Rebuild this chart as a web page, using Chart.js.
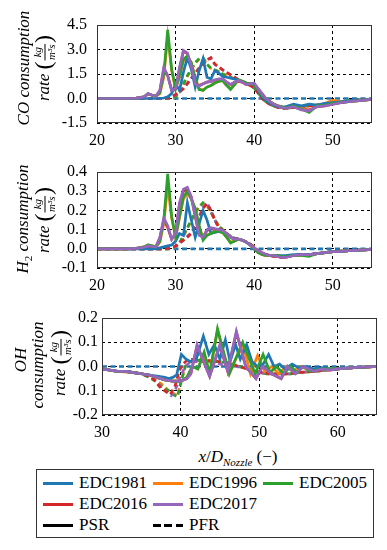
<!DOCTYPE html>
<html>
<head>
<meta charset="utf-8">
<script src="https://cdn.jsdelivr.net/npm/chart.js@4.4.1/dist/chart.umd.min.js"></script>
<style>
  body { margin: 0; background: #fff; width: 387px; height: 550px; position: relative; overflow: hidden;
         font-family: 'Liberation Serif', 'DejaVu Serif', serif; }
  canvas { position: absolute; left: 0; }
  #xtitle { position: absolute; left: 0; width: 476px; top: 447px; text-align: center; font-size: 17px; color: #000; }
  #legend { position: absolute; left: 36px; top: 469px; width: 336px; height: 67px; border: 1px solid #333; }
  .sw { position: absolute; width: 30px; height: 3px; }
  .lt { position: absolute; font-size: 17px; line-height: 20px; color: #000; }
</style>
</head>
<body>
<canvas id="c1" width="387" height="148" style="top:0px"></canvas>
<canvas id="c2" width="387" height="145" style="top:148px"></canvas>
<canvas id="c3" width="387" height="147" style="top:293px"></canvas>
<div id="xtitle"><i>x</i>/<i>D<sub style="font-size:11px">Nozzle</sub></i> (−)</div>
<div id="legend"></div>
<script>
// x positions (x/D_Nozzle) for the CO and H2 panels
const xA = [20,22,24,25,26,26.5,27,27.5,28,28.5,29,29.5,30,30.5,31,31.5,32,32.5,33,33.5,34,34.5,35,35.5,36,36.5,37,37.5,38,38.5,39,39.5,40,40.5,41,41.5,42,42.5,43,43.5,44,45,46,47,48,49,50,51,52,53,55];

// CO consumption rate
const coBluePSR   = [0,0,0,0,0,0,0,0,0.01,0.03,0.1,0.3,0.9,0.5,1.6,2.5,1.8,0.7,1.7,2.45,1.3,1.2,1.7,1.55,1.35,1.3,1.25,1.2,1.1,1.05,0.95,0.9,0.85,0.5,0.1,-0.1,-0.3,-0.4,-0.5,-0.55,-0.5,-0.35,-0.45,-0.35,-0.4,-0.3,-0.25,-0.2,-0.15,-0.1,-0.05];
const coOrangePSR = [0,0,0,0.02,0.1,0.28,0.2,0.15,0.3,1.3,3.8,1.7,0.6,1.3,2.3,2.55,2.2,1.25,0.6,0.5,0.7,0.8,0.95,1.05,1.1,0.8,0.6,0.85,1.1,1.05,0.95,0.9,0.85,0.55,0.2,0,-0.2,-0.35,-0.45,-0.5,-0.6,-0.45,-0.6,-0.8,-0.45,-0.3,-0.1,-0.2,-0.2,-0.15,-0.05];
const coGreenPSR  = [0,0,0,0.02,0.1,0.3,0.2,0.15,0.35,1.5,4.2,1.8,0.6,1.4,2.4,2.6,2.2,1.2,0.55,0.5,0.7,0.8,0.95,1.05,1.1,0.8,0.55,0.85,1.15,1.05,0.95,0.9,0.85,0.55,0.2,0,-0.2,-0.35,-0.45,-0.5,-0.6,-0.45,-0.65,-0.85,-0.45,-0.4,-0.3,-0.25,-0.2,-0.15,-0.05];
const coRedPSR    = [0,0,0,0.02,0.1,0.28,0.2,0.15,0.45,1.8,1.4,0.5,0.6,1.8,2.9,2.75,2.0,0.95,0.8,0.9,1.0,1.05,1.1,1.15,1.2,1.0,0.85,1.0,1.05,1.0,0.85,0.9,0.9,0.6,0.3,0.0,-0.2,-0.35,-0.45,-0.55,-0.6,-0.5,-0.65,-0.7,-0.5,-0.45,-0.35,-0.25,-0.2,-0.15,-0.05];
const coPurplePSR = [0,0,0,0.02,0.1,0.3,0.2,0.15,0.5,1.9,1.4,0.5,0.6,1.9,2.95,2.8,2.0,0.9,0.75,0.9,1.0,1.05,1.15,1.2,1.2,1.0,0.85,1.0,1.1,1.0,0.85,0.9,0.95,0.6,0.3,0.0,-0.2,-0.35,-0.45,-0.55,-0.6,-0.5,-0.7,-0.75,-0.5,-0.45,-0.35,-0.25,-0.2,-0.15,-0.05];
const coOrangePFR = [0,0,0,0,0,0,0,0,0,0,0,0.02,0.1,0.35,0.85,1.35,1.75,2.15,2.4,2.45,2.1,1.85,1.75,1.65,1.5,1.4,1.3,1.2,1.1,1.0,0.9,0.8,0.65,0.35,0.05,-0.2,-0.35,-0.45,-0.5,-0.55,-0.6,-0.55,-0.5,-0.45,-0.4,-0.35,-0.3,-0.2,-0.15,-0.1,-0.05];
const coGreenPFR  = [0,0,0,0,0,0,0,0,0,0,0,0.02,0.1,0.4,0.9,1.4,1.8,2.2,2.45,2.5,2.1,1.85,1.75,1.65,1.5,1.4,1.3,1.2,1.1,1.0,0.9,0.8,0.65,0.35,0.05,-0.2,-0.35,-0.45,-0.5,-0.55,-0.6,-0.55,-0.5,-0.45,-0.4,-0.35,-0.3,-0.2,-0.15,-0.1,-0.05];
const coRedPFR    = [0,0,0,0,0,0,0,0,0,0,0.02,0.1,0.25,0.4,0.6,0.9,1.2,1.5,1.85,2.1,2.35,2.5,2.1,1.95,1.75,1.6,1.45,1.3,1.15,1.05,0.9,0.8,0.65,0.35,0.0,-0.2,-0.35,-0.45,-0.55,-0.6,-0.6,-0.55,-0.5,-0.45,-0.4,-0.35,-0.3,-0.25,-0.15,-0.1,-0.05];
const coPurplePFR = [0,0,0,0,0,0,0,0,0,0,0.02,0.08,0.2,0.4,0.65,0.95,1.25,1.55,1.9,2.15,2.4,2.45,2.1,1.9,1.75,1.6,1.45,1.3,1.15,1.05,0.9,0.8,0.65,0.35,0.0,-0.2,-0.35,-0.45,-0.55,-0.6,-0.6,-0.55,-0.5,-0.45,-0.4,-0.35,-0.3,-0.25,-0.15,-0.1,-0.05];

// H2 consumption rate
const h2BluePSR   = [0,0,0,0,0,0,0,0,0.005,0.01,0.015,0.02,0.04,0.08,0.07,0.24,0.15,0.06,0.13,0.2,0.15,0.08,0.085,0.09,0.085,0.08,0.06,0.05,0.05,0.045,0.035,0.02,0.0,-0.015,-0.025,-0.03,-0.035,-0.035,-0.035,-0.035,-0.035,-0.03,-0.03,-0.03,-0.025,-0.02,-0.015,-0.015,-0.01,-0.008,-0.003];
const h2OrangePSR = [0,0,0,0.002,0.01,0.02,0.015,0.01,0.035,0.13,0.33,0.16,0.06,0.16,0.26,0.29,0.26,0.21,0.12,0.05,0.07,0.08,0.09,0.09,0.085,0.06,0.035,0.04,0.05,0.045,0.035,0.02,0.0,-0.02,-0.03,-0.035,-0.035,-0.035,-0.035,-0.04,-0.04,-0.035,-0.035,-0.035,-0.025,-0.02,-0.015,-0.015,-0.01,-0.008,-0.003];
const h2GreenPSR  = [0,0,0,0.002,0.01,0.02,0.015,0.01,0.04,0.15,0.39,0.17,0.06,0.17,0.27,0.3,0.26,0.21,0.12,0.045,0.07,0.08,0.09,0.09,0.085,0.06,0.03,0.04,0.05,0.045,0.035,0.02,0.0,-0.02,-0.03,-0.035,-0.035,-0.035,-0.035,-0.04,-0.04,-0.035,-0.035,-0.04,-0.025,-0.02,-0.015,-0.015,-0.01,-0.008,-0.003];
const h2RedPSR    = [0,0,0,0.002,0.008,0.014,0.012,0.01,0.055,0.15,0.11,0.05,0.08,0.23,0.3,0.31,0.27,0.17,0.075,0.06,0.095,0.105,0.1,0.1,0.095,0.08,0.06,0.05,0.05,0.045,0.035,0.02,0.005,-0.01,-0.02,-0.03,-0.035,-0.035,-0.04,-0.045,-0.045,-0.035,-0.03,-0.03,-0.025,-0.02,-0.015,-0.015,-0.01,-0.008,-0.003];
const h2PurplePSR = [0,0,0,0.002,0.008,0.015,0.012,0.01,0.06,0.16,0.12,0.05,0.08,0.24,0.31,0.32,0.27,0.17,0.07,0.06,0.1,0.11,0.105,0.1,0.095,0.08,0.06,0.05,0.05,0.045,0.035,0.02,0.005,-0.01,-0.02,-0.03,-0.035,-0.035,-0.04,-0.045,-0.045,-0.035,-0.03,-0.03,-0.025,-0.02,-0.015,-0.015,-0.01,-0.008,-0.003];
const h2OrangePFR = [0,0,0,0,0,0,0,0,0,0,0,0.002,0.01,0.03,0.065,0.105,0.145,0.185,0.215,0.235,0.225,0.19,0.15,0.12,0.1,0.08,0.065,0.055,0.05,0.045,0.035,0.025,0.01,-0.01,-0.025,-0.03,-0.035,-0.035,-0.04,-0.04,-0.04,-0.035,-0.03,-0.03,-0.025,-0.02,-0.015,-0.012,-0.01,-0.008,-0.003];
const h2GreenPFR  = [0,0,0,0,0,0,0,0,0,0,0,0.002,0.01,0.03,0.07,0.11,0.15,0.19,0.22,0.24,0.23,0.19,0.15,0.12,0.1,0.08,0.065,0.055,0.05,0.045,0.035,0.025,0.01,-0.01,-0.025,-0.03,-0.035,-0.035,-0.04,-0.04,-0.04,-0.035,-0.03,-0.03,-0.025,-0.02,-0.015,-0.012,-0.01,-0.008,-0.003];
const h2RedPFR    = [0,0,0,0,0,0,0,0,0,0,0.002,0.005,0.015,0.03,0.045,0.06,0.08,0.11,0.16,0.21,0.235,0.2,0.15,0.11,0.09,0.075,0.065,0.055,0.05,0.045,0.035,0.025,0.005,-0.015,-0.03,-0.035,-0.035,-0.04,-0.04,-0.045,-0.04,-0.035,-0.03,-0.03,-0.025,-0.02,-0.015,-0.012,-0.01,-0.008,-0.003];
const h2PurplePFR = [0,0,0,0,0,0,0,0,0,0,0.002,0.005,0.012,0.028,0.045,0.065,0.085,0.12,0.17,0.215,0.24,0.2,0.15,0.11,0.09,0.075,0.065,0.055,0.05,0.045,0.035,0.025,0.005,-0.015,-0.03,-0.035,-0.035,-0.04,-0.04,-0.045,-0.04,-0.035,-0.03,-0.03,-0.025,-0.02,-0.015,-0.012,-0.01,-0.008,-0.003];

// EDC1981 PFR is zero everywhere
const flatA = [20, 55];
const flatC = [30, 65];
const flatY = [0, 0];

// OH consumption rate (each line has its own x positions)
const ohBlueX     = [30,31,32,33,34,35,36,37,38,38.5,39,39.5,40.1,40.7,41.3,42.0,42.9,43.6,44.3,45.0,45.7,46.3,47.0,47.6,48.4,49.1,49.8,50.5,51.2,51.9,52.6,53.3,54.2,55,56,57,58,59,60,62,65];
const ohBluePSR   = [-0.01,-0.015,-0.02,-0.02,-0.025,-0.03,-0.035,-0.04,-0.045,-0.05,-0.045,-0.035,0.05,0.03,0.02,0.03,0.125,0.05,0.09,0.03,0.11,0.02,0.09,0.03,0.09,0.02,0.0,0.01,0.05,0.0,0.01,-0.01,0.01,-0.005,0.0,-0.01,-0.005,-0.01,-0.01,-0.005,0.0];
const ohGreenX    = [30,31,32,33,34,35,36,37,38,39,40,40.8,41.5,42.2,43.0,43.7,44.7,46.2,47.9,49.5,50.5,51.4,52.2,53.1,54.0,54.8,55.6,56.5,58,60,62,65];
const ohGreenPSR  = [-0.01,-0.015,-0.02,-0.02,-0.025,-0.03,-0.035,-0.045,-0.055,-0.06,-0.06,-0.045,0.0,-0.01,0.06,-0.03,0.155,-0.03,0.10,-0.03,0.05,-0.025,0.0,-0.03,0.0,-0.025,0.0,-0.02,-0.01,-0.01,-0.005,0.0];
const ohOrangeX   = [30,32,34,36,38,39,40,40.8,41.5,42.2,43.0,43.7,44.7,46.2,47.9,48.9,49.8,50.7,51.6,52.5,53.4,54.3,55.2,56.5,58,60,62,65];
const ohOrangePSR = [-0.01,-0.02,-0.025,-0.035,-0.055,-0.06,-0.06,-0.045,0.0,-0.01,0.055,-0.03,0.15,-0.03,0.095,-0.03,0.045,-0.02,0.0,-0.03,0.0,-0.02,0.0,-0.015,-0.01,-0.01,-0.005,0.0];
const ohPurpleX   = [30,31,32,33,34,35,36,37,38,39,40,40.8,41.3,42.1,43.7,45.0,46.0,47.1,48.3,49.6,50.4,51.6,52.8,53.6,54.6,55.6,57,58,59,60,62,65];
const ohPurplePSR = [-0.01,-0.015,-0.02,-0.02,-0.025,-0.03,-0.035,-0.045,-0.055,-0.06,-0.06,-0.05,-0.03,0.09,-0.04,0.09,-0.02,0.145,0.0,-0.05,0.0,-0.03,-0.05,0.0,-0.03,0.0,-0.02,-0.01,-0.015,-0.01,-0.005,0.0];
const ohRedPSR    = [-0.01,-0.015,-0.02,-0.02,-0.025,-0.03,-0.035,-0.045,-0.055,-0.06,-0.06,-0.05,-0.03,0.085,-0.04,0.085,-0.02,0.14,0.0,-0.05,0.0,-0.03,-0.05,0.0,-0.03,0.0,-0.02,-0.01,-0.015,-0.01,-0.005,0.0];
const ohRedPfrX   = [30,31,32,33,34,35,36,36.5,37,37.5,38,38.7,39.3,39.8,40.3,40.8,41.5,42.5,43.5,44.5,45.5,46.5,47.5,48.5,49.5,50.5,51.5,52.5,53.5,55,57,60,62,65];
const ohRedPFR    = [-0.01,-0.015,-0.02,-0.02,-0.025,-0.03,-0.04,-0.05,-0.07,-0.09,-0.1,-0.115,-0.08,-0.02,0.01,0.025,0.03,0.03,0.025,0.02,0.02,0.01,0.0,-0.01,-0.02,-0.025,-0.03,-0.03,-0.03,-0.025,-0.02,-0.01,-0.005,0.0];
const ohGreenPfrX = [30,31,32,33,34,35,36,37,37.5,38,38.5,39,39.6,40.1,40.6,41.2,42,43,44,45,46,47,48,49,50,51,52,53,54,55,57,60,62,65];
const ohGreenPFR  = [-0.01,-0.015,-0.02,-0.02,-0.025,-0.03,-0.045,-0.065,-0.08,-0.09,-0.1,-0.115,-0.125,-0.06,0.0,0.02,0.025,0.025,0.02,0.02,0.015,0.005,-0.005,-0.015,-0.025,-0.03,-0.03,-0.03,-0.03,-0.025,-0.02,-0.01,-0.005,0.0];
const ohOrangePFR = [-0.01,-0.015,-0.02,-0.02,-0.025,-0.03,-0.04,-0.06,-0.07,-0.085,-0.1,-0.11,-0.12,-0.055,0.0,0.02,0.025,0.025,0.02,0.02,0.015,0.005,-0.005,-0.015,-0.025,-0.03,-0.03,-0.03,-0.03,-0.025,-0.02,-0.01,-0.005,0.0];
const ohPurplePfrX = [30,31,32,33,34,35,36,36.5,37,37.5,38,38.8,39.4,40,40.6,41.3,42,43,44,45,46,47,48,49,50,51,52,53,54,55,57,60,62,65];
const ohPurplePFR = [-0.01,-0.015,-0.02,-0.02,-0.025,-0.03,-0.04,-0.05,-0.065,-0.085,-0.1,-0.12,-0.09,-0.04,0.0,0.02,0.02,0.02,0.015,0.01,0.005,0.0,-0.005,-0.015,-0.025,-0.03,-0.03,-0.03,-0.03,-0.025,-0.02,-0.01,-0.005,0.0];

// ticks
const xTicksA = [20, 30, 40, 50];
const xTicksC = [30, 40, 50, 60];
const yTicks1 = [-1.5, 0, 1.5, 3, 4.5];
const yLabels1 = ['-1.5', '0.0', '1.5', '3.0', '4.5'];
const yTicks2 = [-0.1, 0, 0.1, 0.2, 0.3, 0.4];
const yLabels2 = ['-0.1', '0.0', '0.1', '0.2', '0.3', '0.4'];
const yTicks3 = [-0.2, -0.1, 0, 0.1, 0.2];
const yLabels3 = ['-0.2', '0.1', '0.0', '0.1', '0.2'];

const models = ['EDC1981', 'EDC1996', 'EDC2005', 'EDC2016', 'EDC2017'];
const colors = ['#1f77b4', '#ff7f0e', '#2ca02c', '#d62728', '#9467bd'];

const serif = "'Liberation Serif', 'DejaVu Serif', serif";

function line(label, color, xs, ys, dashed) {
    return {
        label: label,
        data: xs.map((x, i) => ({ x: x, y: ys[i] })),
        borderColor: color,
        borderWidth: 2.7,
        borderDash: dashed ? [5, 3.5] : [],
        pointRadius: 0,
        fill: false,
        tension: 0
    };
}

// y axis titles drawn rotated, with the fraction for the unit
function fontOf(s) { return (s.it ? 'italic ' : '') + s.size + 'px ' + serif; }
function segWidth(ctx, s) {
    if (s.num) {
        ctx.font = fontOf({ it: true, size: s.size });
        return Math.max(ctx.measureText(s.num).width, ctx.measureText(s.den).width) + 3;
    }
    ctx.font = fontOf(s);
    return ctx.measureText(s.text).width;
}
function drawRotated(ctx, segs, cx, cy) {
    ctx.save();
    ctx.translate(cx, cy);
    ctx.rotate(-Math.PI / 2);
    ctx.fillStyle = '#000';
    ctx.textBaseline = 'middle';
    const ws = segs.map(s => segWidth(ctx, s));
    let x = -ws.reduce((a, b) => a + b, 0) / 2;
    segs.forEach((s, i) => {
        if (s.num) {
            ctx.font = fontOf({ it: true, size: s.size });
            ctx.textAlign = 'center';
            ctx.fillText(s.num, x + ws[i] / 2, -s.size * 0.6);
            ctx.fillText(s.den, x + ws[i] / 2, s.size * 0.65);
            ctx.fillRect(x + 1, -0.5, ws[i] - 2, 1);
        } else {
            ctx.font = fontOf(s);
            ctx.textAlign = 'left';
            ctx.fillText(s.text, x, s.dy || 0);
        }
        x += ws[i];
    });
    ctx.restore();
}
const rateLine = [{ text: 'rate ', it: true, size: 17 }, { text: '(', size: 24 },
                  { num: 'kg', den: 'm³s', size: 11 }, { text: ')', size: 24 }];

const titlePlugin = {
    id: 'ytitle',
    afterDraw(chart, args, opts) {
        opts.lines.forEach(l => drawRotated(chart.ctx, l.segs, l.x, l.y));
    }
};
const framePlugin = {
    id: 'frame',
    afterDatasetsDraw(chart) {
        const a = chart.chartArea, ctx = chart.ctx;
        ctx.save();
        ctx.strokeStyle = '#333';
        ctx.lineWidth = 1;
        ctx.strokeRect(Math.round(a.left) + 0.5, Math.round(a.top) + 0.5,
                       Math.round(a.right - a.left) - 1, Math.round(a.bottom - a.top) - 1);
        ctx.restore();
    }
};

function makeChart(id, cfg) {
    // listed bottom to top; Chart.js draws the first dataset on top
    const sets = [
        line(models[0] + ' PFR', colors[0], cfg.flatX, flatY, true),
        line(models[1] + ' PFR', colors[1], cfg.pfr[1][0], cfg.pfr[1][1], true),
        line(models[2] + ' PFR', colors[2], cfg.pfr[2][0], cfg.pfr[2][1], true),
        line(models[4] + ' PFR', colors[4], cfg.pfr[4][0], cfg.pfr[4][1], true),
        line(models[3] + ' PFR', colors[3], cfg.pfr[3][0], cfg.pfr[3][1], true),
        line(models[3] + ' PSR', colors[3], cfg.psr[3][0], cfg.psr[3][1], false),
        line(models[1] + ' PSR', colors[1], cfg.psr[1][0], cfg.psr[1][1], false),
        line(models[0] + ' PSR', colors[0], cfg.psr[0][0], cfg.psr[0][1], false),
        line(models[2] + ' PSR', colors[2], cfg.psr[2][0], cfg.psr[2][1], false),
        line(models[4] + ' PSR', colors[4], cfg.psr[4][0], cfg.psr[4][1], false)
    ].reverse();
    const tickFont = { family: serif, size: 16 };
    return new Chart(document.getElementById(id), {
        type: 'line',
        data: { datasets: sets },
        options: {
            responsive: false,
            animation: false,
            events: [],
            layout: { padding: { top: cfg.top, right: cfg.right, left: 0, bottom: 0 } },
            plugins: {
                legend: { display: false },
                tooltip: { enabled: false },
                ytitle: { lines: cfg.titles }
            },
            scales: {
                x: {
                    type: 'linear', min: cfg.xMin, max: cfg.xMax,
                    afterBuildTicks: s => { s.ticks = cfg.xTicks.map(v => ({ value: v })); },
                    afterFit: s => { s.height = 25; },
                    grid: { color: '#000', lineWidth: 1, drawTicks: false },
                    border: { display: false, dash: [3, 3] },
                    ticks: { font: tickFont, color: '#000', padding: 8, maxRotation: 0, autoSkip: false }
                },
                y: {
                    type: 'linear', min: cfg.yMin, max: cfg.yMax,
                    afterBuildTicks: s => { s.ticks = cfg.yTicks.map(v => ({ value: v })); },
                    afterFit: s => { s.width = cfg.left; },
                    grid: { color: '#000', lineWidth: 1, drawTicks: false },
                    border: { display: false, dash: [3, 3] },
                    ticks: { font: tickFont, color: '#000', padding: cfg.yPad, autoSkip: false,
                             callback: (v, i) => cfg.yLabels[i] }
                }
            }
        },
        plugins: [titlePlugin, framePlugin]
    });
}

makeChart('c1', {
    top: 25, right: 15, left: 97, yPad: 10,
    xMin: 20, xMax: 55, xTicks: xTicksA, flatX: flatA,
    yMin: -1.5, yMax: 4.5, yTicks: yTicks1, yLabels: yLabels1,
    psr: [[xA, coBluePSR], [xA, coOrangePSR], [xA, coGreenPSR], [xA, coRedPSR], [xA, coPurplePSR]],
    pfr: [null, [xA, coOrangePFR], [xA, coGreenPFR], [xA, coRedPFR], [xA, coPurplePFR]],
    titles: [
        { x: 25, y: 68, segs: [{ text: 'CO consumption', it: true, size: 17 }] },
        { x: 45, y: 68, segs: rateLine }
    ]
});

makeChart('c2', {
    top: 24, right: 15, left: 97, yPad: 10,
    xMin: 20, xMax: 55, xTicks: xTicksA, flatX: flatA,
    yMin: -0.1, yMax: 0.4, yTicks: yTicks2, yLabels: yLabels2,
    psr: [[xA, h2BluePSR], [xA, h2OrangePSR], [xA, h2GreenPSR], [xA, h2RedPSR], [xA, h2PurplePSR]],
    pfr: [null, [xA, h2OrangePFR], [xA, h2GreenPFR], [xA, h2RedPFR], [xA, h2PurplePFR]],
    titles: [
        { x: 24, y: 71, segs: [{ text: 'H', it: true, size: 17 }, { text: '2', size: 11, dy: 5 },
                               { text: ' consumption', it: true, size: 17 }] },
        { x: 45, y: 72, segs: rateLine }
    ]
});

makeChart('c3', {
    top: 25, right: 10, left: 102, yPad: 4,
    xMin: 30, xMax: 65, xTicks: xTicksC, flatX: flatC,
    yMin: -0.2, yMax: 0.2, yTicks: yTicks3, yLabels: yLabels3,
    psr: [[ohBlueX, ohBluePSR], [ohOrangeX, ohOrangePSR], [ohGreenX, ohGreenPSR], [ohPurpleX, ohRedPSR], [ohPurpleX, ohPurplePSR]],
    pfr: [null, [ohGreenPfrX, ohOrangePFR], [ohGreenPfrX, ohGreenPFR], [ohRedPfrX, ohRedPFR], [ohPurplePfrX, ohPurplePFR]],
    titles: [
        { x: 22, y: 67, segs: [{ text: 'OH', it: true, size: 17 }] },
        { x: 39, y: 72, segs: [{ text: 'consumption', it: true, size: 17 }] },
        { x: 61, y: 70, segs: rateLine }
    ]
});

// legend
const legend = document.getElementById('legend');
const legendItems = [
    { name: models[0], color: colors[0], col: 0, row: 0 },
    { name: models[1], color: colors[1], col: 1, row: 0 },
    { name: models[2], color: colors[2], col: 2, row: 0 },
    { name: models[3], color: colors[3], col: 0, row: 1 },
    { name: models[4], color: colors[4], col: 1, row: 1 },
    { name: 'PSR', color: '#000', col: 0, row: 2 },
    { name: 'PFR', color: '#000', col: 1, row: 2, dashed: true }
];
const colX = [6, 116, 226];
legendItems.forEach(it => {
    const y = 13 + it.row * 21;
    const sw = document.createElement('div');
    sw.className = 'sw';
    sw.style.left = colX[it.col] + 'px';
    sw.style.top = (y - 1.5) + 'px';
    sw.style.background = it.dashed
        ? 'repeating-linear-gradient(90deg, #000 0 8px, transparent 8px 11.5px)'
        : it.color;
    legend.appendChild(sw);
    const t = document.createElement('div');
    t.className = 'lt';
    t.textContent = it.name;
    t.style.left = (colX[it.col] + 36) + 'px';
    t.style.top = (y - 10) + 'px';
    legend.appendChild(t);
});
</script>
</body>
</html>
